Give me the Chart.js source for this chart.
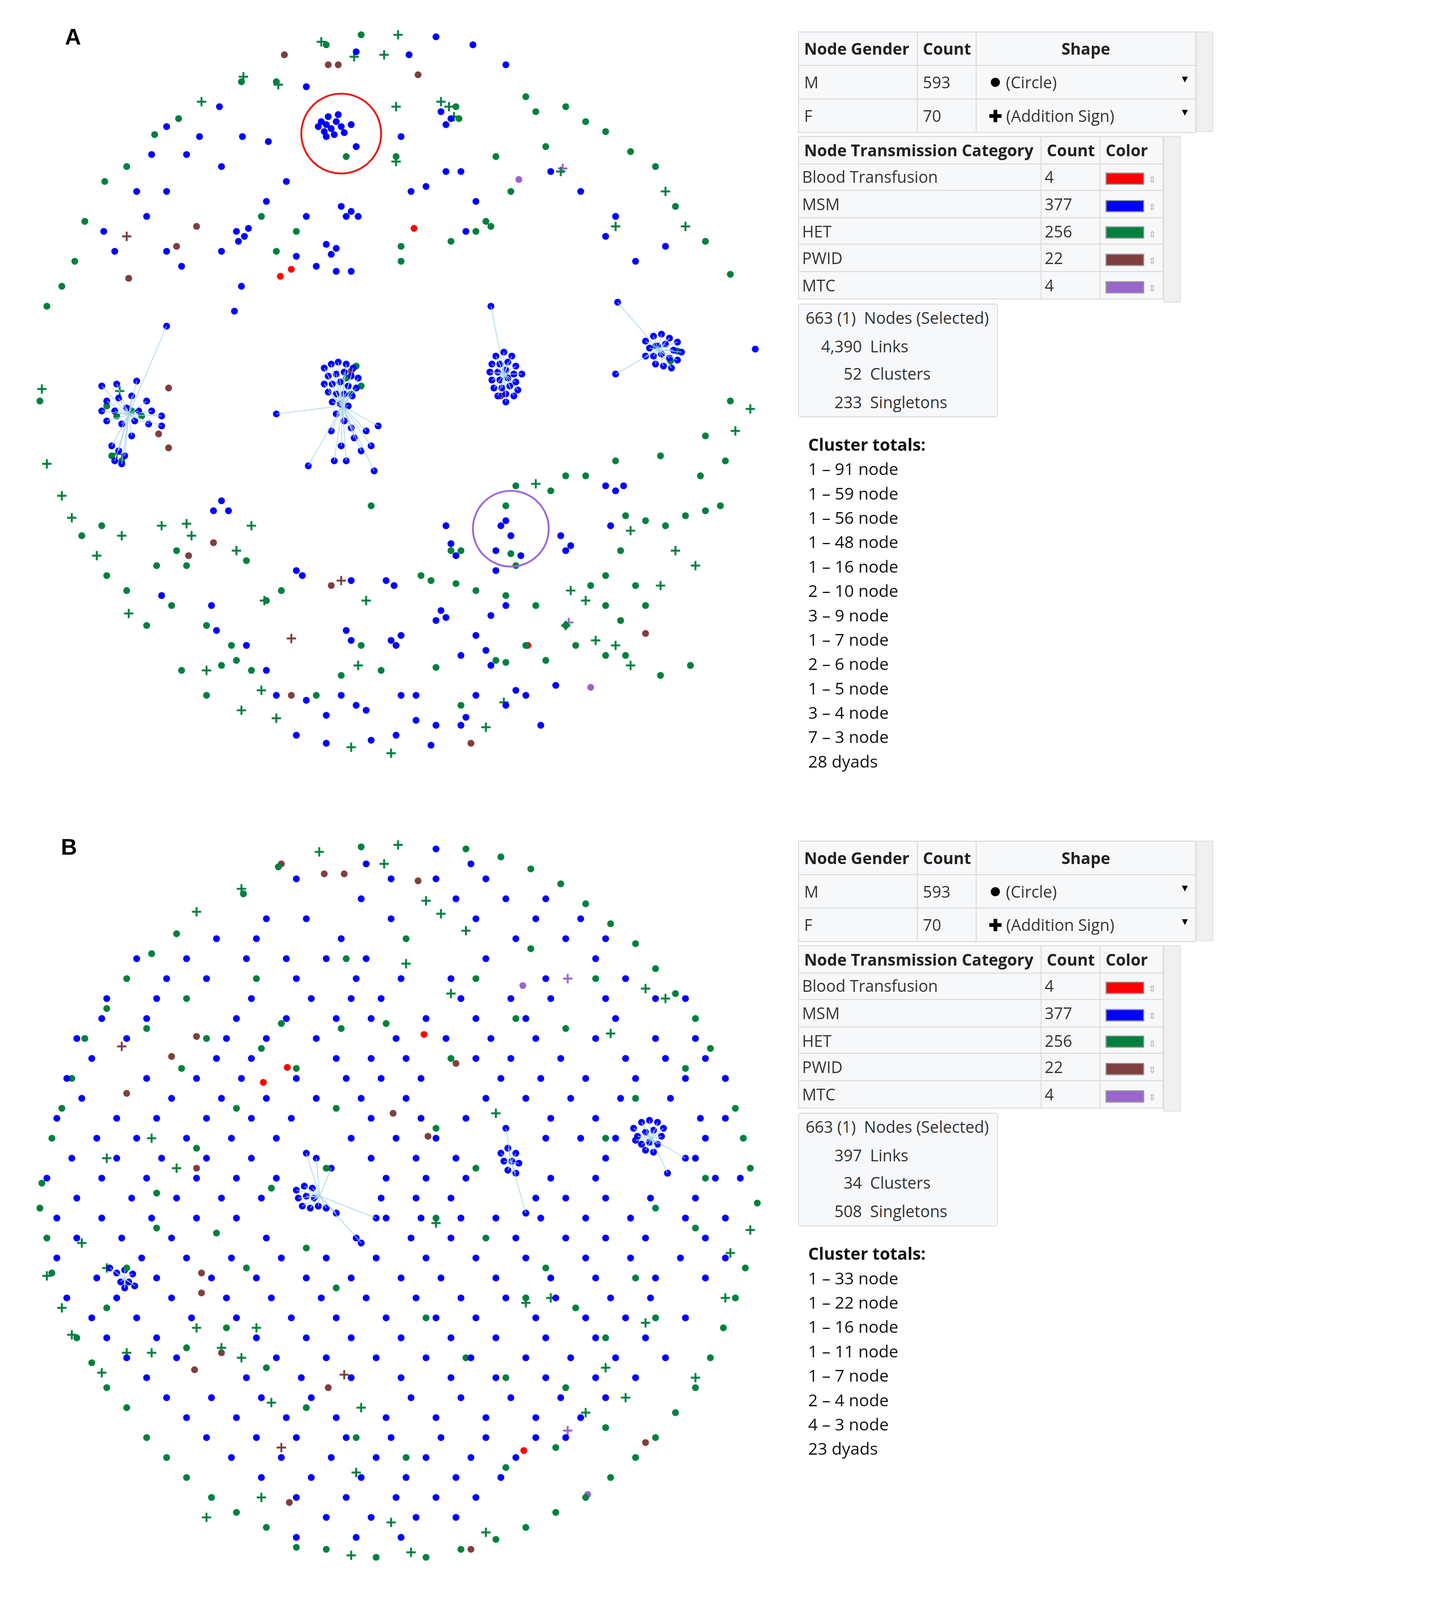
<!DOCTYPE html>
<html><head><meta charset="utf-8">
<script src="https://cdn.jsdelivr.net/npm/chart.js@4"></script>
<style>
html,body{margin:0;padding:0;background:#fff;overflow:hidden;}
#wrap{position:absolute;left:0;top:0;width:1220px;height:1576px;transform-origin:0 0;font-family:"Open Sans","Noto Sans",sans-serif;color:#333;}
.lbl{position:absolute;font:bold 22px "Liberation Sans",Arial,sans-serif;color:#000;}
.cv{position:absolute;}
table{border-collapse:collapse;font-size:15.8px;position:absolute;table-layout:fixed;background:#f7f8fa;}
td,th{border:1px solid #dcdcdc;padding:0 5px;height:32px;text-align:left;white-space:nowrap;overflow:hidden;}
th{font-weight:bold;color:#222;}
.t2 td,.t2 th{height:25.6px;}
.t2 td{padding:0 3px;}
.sw{display:inline-block;width:38px;height:12px;vertical-align:middle;border:1px solid #999;box-sizing:border-box;}
.stats{position:absolute;border:1px solid #dcdcdc;border-radius:3px;background:#f7f8fa;font-size:15.8px;line-height:27.5px;padding:0 4px;}
.stats span{display:inline-block;text-align:right;margin-right:8px;}
.tot{position:absolute;font-size:16.5px;line-height:24px;color:#111;}
.sb{position:absolute;background:#f0f0f0;border:1px solid #e3e3e3;box-sizing:border-box;}
</style></head><body><div id="wrap">
<div class="lbl" style="left:64px;top:24px">A</div>
<div class="lbl" style="left:60px;top:822px">B</div>
<canvas id="cA" class="cv" style="left:20px;top:15px"></canvas>
<canvas id="cB" class="cv" style="left:20px;top:810px"></canvas>
<div id="panels"></div>
</div>
<script>
// ---------- DATA (design-pixel coordinates) ----------
const genderRows=[["M",593,"<span style='font-size:21px;line-height:10px;color:#000'>●</span> (Circle)"],["F",70,"<b style='color:#000'>✚</b> (Addition Sign)"]];
const categories=["Blood Transfusion","MSM","HET","PWID","MTC"];
const categoryCounts=[4,377,256,22,4];
const categoryColors=["#ff0000","#0000ff","#00803f","#7f3f3f","#9966cc"];
const statsA=[["663 (1)","Nodes (Selected)"],["4,390","Links"],["52","Clusters"],["233","Singletons"]];
const statsB=[["663 (1)","Nodes (Selected)"],["397","Links"],["34","Clusters"],["508","Singletons"]];
const totalsA=["1 – 91 node","1 – 59 node","1 – 56 node","1 – 48 node","1 – 16 node","2 – 10 node","3 – 9 node","1 – 7 node","2 – 6 node","1 – 5 node","3 – 4 node","7 – 3 node","28 dyads"];
const totalsB=["1 – 33 node","1 – 22 node","1 – 16 node","1 – 11 node","1 – 7 node","2 – 4 node","4 – 3 node","23 dyads"];

const A_MSM=[[430,30],[467,38],[403,48],[350,45],[500,58],[300,80],[262,135],[213,100],[193,130],[236,130],[160,120],[145,148],[180,148],[215,160],[130,185],[160,185],[97,225],[140,210],[108,245],[160,245],[175,260],[215,245],[235,280],[228,305],[260,195],[280,175],[300,210],[290,250],[310,260],[330,265],[345,265],[395,130],[405,185],[420,180],[440,165],[455,165],[460,225],[470,195],[545,165],[575,185],[600,230],[610,210],[630,255],[750,343],[660,240],
[315,115],[320,118],[325,122],[330,115],[335,120],[318,125],[328,128],[312,120],[322,110],[332,108],[338,126],[345,118],[320,130],[350,140],
[335,200],[345,205],[352,210],[340,210],[230,225],[238,230],[232,235],[242,222],[320,238],[330,242],[325,248],[435,105],[445,112],[440,118],
[215,495],[222,505],[207,505],[440,520],[445,538],[450,550],[495,520],[505,530],[490,545],[515,550],[500,515],[555,530],[565,540],[560,545],[600,480],[610,485],[618,480],[605,520],[290,565],[296,570],[345,575],[380,575],[388,580],[435,605],[440,612],[430,615],[490,565],[500,600],[485,610],[205,600],[210,625],[155,590],[240,640],[340,625],[345,635],[385,635],[390,640],[395,630],[470,630],[480,645],[455,650],[485,660],[470,690],[460,712],[500,700],[535,720],[510,685],[520,690],[550,680],[395,690],[410,715],[430,720],[455,720],[360,705],[320,710],[290,730],[320,738],[365,735],[390,730],[425,740],[350,700],[335,690],[300,695],[410,690],[270,690],[260,665]];
const A_HET=[[355,28],[320,38],[270,75],[235,75],[172,112],[148,128],[120,160],[98,175],[78,215],[68,255],[55,280],[40,300],[33,395],[75,530],[95,520],[100,570],[120,585],[140,620],[150,560],[170,545],[165,600],[180,560],[175,665],[200,690],[215,660],[230,655],[245,665],[200,620],[225,640],[260,595],[275,585],[240,555],[310,690],[335,670],[375,665],[355,640],[430,662],[455,700],[490,655],[500,657],[520,640],[540,655],[585,580],[600,570],[615,545],[630,580],[620,510],[640,515],[660,520],[680,510],[700,505],[715,500],[610,455],[655,450],[695,470],[720,455],[700,430],[725,395],[530,600],[510,560],[500,590],[560,470],[545,485],[510,480],[580,470],[415,570],[425,575],[455,545],[450,578],[470,585],[560,620],[570,640],[600,650],[640,600],[655,670],[620,650],[685,660],[560,100],[580,115],[600,125],[625,145],[650,160],[670,200],[700,235],[725,268],[530,105],[520,90],[540,140],[490,150],[505,185],[480,215],[470,225],[445,235],[485,220],[395,240],[395,255],[270,245],[255,210],[290,225],[450,100],[453,112],[340,150],[390,150],[365,500],[500,500],[600,600],[615,615],[505,548],[445,545]];
const A_HET_F=[[315,35],[392,28],[378,48],[237,70],[272,78],[348,50],[195,95],[390,100],[435,95],[443,100],[448,110],[660,185],[680,220],[610,220],[35,383],[40,458],[55,490],[65,512],[115,530],[90,550],[155,520],[180,518],[185,530],[245,520],[230,545],[122,608],[200,665],[255,685],[270,713],[235,705],[345,742],[385,748],[480,722],[498,697],[560,620],[580,595],[590,635],[610,640],[625,660],[690,560],[670,545],[655,580],[565,585],[530,478],[625,525],[745,403],[730,425],[360,595],[352,660],[258,595],[110,448],[113,385],[390,155],[555,165]];
const A_PWID=[[278,48],[322,58],[332,58],[412,68],[190,220],[170,240],[122,272],[162,382],[162,442],[152,428],[182,550],[207,537],[325,580],[285,690],[465,738],[640,628],[495,390],[345,365]];
const A_PWID_F=[[120,230],[335,575],[285,633]];
const A_BLOOD=[[408,222],[274,270],[285,263],[522,640]];
const A_MTC=[[513,173],[585,682]];
const A_MTC_F=[[557,162],[563,617]];
const A_clusterCenter=[[318,362],[325,358],[332,356],[340,358],[347,362],[322,370],[330,368],[338,366],[345,370],[352,372],[318,378],[326,378],[334,376],[342,380],[350,382],[322,386],[330,388],[338,388],[346,390],[326,396],[334,398],[342,400],[330,408],[338,415],[345,422],[325,425],[335,440],[348,432],[360,425],[355,445],[340,455],[328,455],[302,460],[368,465],[365,440],[372,420],[270,408]];
const A_clusterMid=[[490,350],[498,346],[506,350],[486,358],[494,358],[502,356],[510,360],[484,366],[492,366],[500,364],[508,368],[516,368],[486,374],[494,374],[502,372],[510,376],[488,382],[496,382],[504,380],[512,384],[492,390],[500,388],[508,390],[485,300],[500,396]];
const A_clusterRight=[[640,335],[648,330],[656,328],[664,332],[672,336],[644,342],[652,340],[660,338],[668,344],[676,346],[640,350],[648,350],[656,348],[664,352],[672,354],[650,358],[658,360],[666,362],[610,368],[612,296]];
const A_clusterLeft=[[95,380],[110,378],[130,375],[100,395],[112,392],[125,390],[140,395],[95,405],[108,405],[120,402],[132,405],[145,405],[155,410],[100,415],[115,418],[128,415],[142,418],[155,420],[125,430],[105,440],[112,445],[118,450],[108,455],[115,458],[160,320]];
const A_clusterHET=[[355,380],[345,388],[350,360],[340,372],[110,410],[125,405],[105,450],[115,455],[135,410],[100,400],[640,350],[650,340],[665,355],[672,345]];
const A_rings=[[335,127,40,"#ee1111"],[505,523,38,"#9966dd"]];

const B_MSM_rows=[[830,[430]],[845,[465,360]],[860,[290,385,430,480]],[880,[355,450,500,540]],[900,[260,300,385,470,530,575]],[920,[210,250,335,510,560,600]],[940,[130,180,240,280,320,360,480,590]],[960,[160,200,290,350,395,445,540,620]],[980,[100,150,245,305,345,375,455,505,545,600,650,680]],[1000,[95,140,230,280,330,365,420,470,520,610]],[1020,[70,120,220,260,310,390,440,485,530,590,650,690]],[1040,[85,210,245,330,365,400,470,505,555,620,660,700]],[1060,[60,140,190,235,290,340,375,415,495,535,580,630,680,720]],[1080,[75,165,215,260,310,355,400,480,520,565,615,665]],[1100,[50,110,150,200,245,285,365,415,460,545,590,695,720]],[1120,[90,130,180,225,270,345,390,430,540,575,610,700]],[1140,[65,110,155,200,245,365,410,450,600,690]],[1160,[40,95,140,190,230,270,380,420,460,545,590,710,735]],[1180,[70,125,170,215,255,375,410,445,530,560,600,645,690]],[1200,[50,95,145,190,230,380,415,455,490,535,580,625,680,720]],[1220,[70,115,165,260,350,405,445,510,560,600,640,700]],[1240,[50,135,180,225,275,320,370,420,470,520,580,625,675,720]],[1260,[90,150,205,250,300,345,395,435,490,545,590,650,700]],[1280,[60,110,165,220,265,315,360,410,455,500,550,605,645]],[1300,[85,130,185,230,285,330,380,430,470,530,580,620,680]],[1320,[100,150,250,300,345,395,445,490,540,590,640]],[1340,[120,170,270,320,370,420,465,520,565,610,660]],[1360,[140,240,295,345,395,445,490,540,590,630]],[1380,[160,205,255,305,405,455,505,555,600]],[1400,[180,230,280,330,380,430,480,530,575]],[1420,[200,250,290,340,385,435,480,530,560]],[1440,[225,275,325,370,420,465,510]],[1460,[255,305,355,400,450,495]],[1480,[290,340,390,430,470]],[1500,[320,365,410,450]],[1520,[290,350,395]]];
const B_HET=[[355,828],[272,848],[237,875],[170,915],[145,935],[120,960],[100,990],[78,1020],[65,1060],[55,1090],[45,1120],[35,1165],[33,1190],[40,1220],[45,1255],[70,1320],[85,1345],[100,1370],[120,1390],[140,1420],[160,1440],[180,1460],[205,1480],[230,1495],[260,1510],[290,1530],[320,1532],[370,1540],[420,1540],[455,1532],[490,1522],[520,1510],[550,1495],[580,1480],[605,1460],[630,1440],[650,1420],[670,1395],[690,1370],[705,1340],[718,1310],[730,1280],[740,1250],[752,1185],[745,1150],[738,1120],[730,1090],[720,1060],[705,1030],[690,1000],[670,975],[650,950],[630,925],[605,905],[580,885],[555,865],[525,850],[495,838],[460,830],
[255,1030],[275,1005],[335,1010],[380,1005],[445,1040],[510,1000],[560,1010],[200,1020],[175,1050],[230,1090],[290,1050],[330,1090],[430,1110],[470,1150],[320,1150],[265,1170],[190,1130],[150,1175],[210,1215],[240,1250],[300,1230],[330,1270],[430,1200],[480,1220],[520,1280],[540,1250],[570,1290],[600,1320],[630,1260],[650,1300],[420,1300],[460,1340],[500,1360],[560,1370],[220,1310],[180,1330],[260,1350],[300,1390],[350,1420],[400,1440],[500,1450],[550,1430],[600,1410],[120,1250],[100,1290],[150,1210],[650,1190],[690,1210],[700,1160],[600,1120],[630,1080],[680,1050],[590,960],[525,930],[470,960],[400,920],[340,940],[250,960],[180,980],[140,1010]];
const B_HET_F=[[313,833],[392,826],[378,845],[235,870],[190,893],[420,882],[435,895],[460,912],[400,945],[445,975],[640,970],[660,980],[605,1015],[100,1140],[75,1225],[40,1258],[100,1250],[55,1290],[65,1317],[95,1355],[120,1335],[145,1335],[190,1310],[215,1330],[235,1340],[250,1310],[265,1385],[355,1390],[350,1455],[385,1505],[405,1535],[345,1538],[255,1480],[200,1500],[480,1515],[520,1285],[545,1280],[580,1395],[600,1350],[620,1380],[640,1305],[690,1360],[720,1280],[745,1212],[725,1235],[490,1095],[430,1205],[145,1120],[170,1150]];
const B_PWID=[[275,845],[318,855],[338,855],[412,862],[190,1018],[165,1038],[120,1075],[190,1150],[195,1255],[195,1275],[215,1335],[188,1352],[322,1370],[387,1095],[422,1118],[283,1485],[465,1532],[640,1425],[450,1045]];
const B_PWID_F=[[115,1028],[338,1357],[275,1430]];
const B_BLOOD=[[418,1016],[281,1049],[257,1064],[518,1433]];
const B_MTC=[[517,967],[582,1477]];
const B_MTC_F=[[562,960],[562,1413]];
const B_cluster1=[[628,1110],[636,1104],[644,1102],[652,1104],[658,1110],[632,1118],[640,1114],[648,1112],[656,1118],[636,1126],[644,1124],[652,1126],[640,1132],[648,1134],[662,1155],[680,1140],[630,1122]];
const B_cluster2=[[495,1135],[502,1130],[510,1135],[498,1143],[506,1143],[513,1145],[502,1152],[510,1155],[520,1195],[500,1110]];
const B_cluster3=[[290,1172],[298,1168],[306,1170],[292,1180],[300,1178],[308,1180],[296,1188],[304,1190],[312,1188],[320,1190],[330,1195],[310,1140],[300,1135],[325,1150],[355,1225],[370,1200]];
const B_cluster4=[[110,1255],[118,1252],[126,1256],[114,1264],[122,1264],[118,1270],[128,1268],[103,1250]];
const B_clusterHET=[[630,1122],[636,1126],[662,1155],[506,1143],[520,1195],[312,1188],[320,1190],[330,1195],[355,1225]];

// ---------- BUILD ----------
const S=Math.min(window.innerWidth/1220,window.innerHeight/1576);
document.getElementById('wrap').style.transform='scale('+S+')';
const DPR=S*(window.devicePixelRatio||1);
const P=a=>a.map(p=>({x:p[0],y:p[1]}));
function links(cl){const o=[];const cx=cl.reduce((s,p)=>s+p[0],0)/cl.length,cy=cl.reduce((s,p)=>s+p[1],0)/cl.length;
 cl.forEach(p=>{o.push({x:cx,y:cy},{x:p[0],y:p[1]},{x:NaN,y:NaN});});return o;}
function ds(data,color,cross){return {type:'scatter',data:P(data),pointStyle:cross?'cross':'circle',pointRadius:cross?4.6:3.4,
 backgroundColor:color,borderColor:color,borderWidth:cross?1.9:0,pointHoverRadius:0};}
const ringPlugin={id:'rings',afterDatasetsDraw(c){const r=c.options.plugins.rings.list||[];const ctx=c.ctx;
 r.forEach(q=>{const x=c.scales.x.getPixelForValue(q[0]),y=c.scales.y.getPixelForValue(q[1]);
 const rr=c.scales.x.getPixelForValue(q[0]+q[2])-x;ctx.save();ctx.beginPath();ctx.arc(x,y,rr,0,Math.PI*2);ctx.strokeStyle=q[3];ctx.lineWidth=1.8;ctx.stroke();ctx.restore();});}};
function make(id,y0,sets,clusters,rings){
 const cv=document.getElementById(id);cv.width=750;cv.height=750;
 const linkData=[];clusters.forEach(c=>linkData.push(...links(c)));
 new Chart(cv,{type:'scatter',plugins:[ringPlugin],data:{datasets:[
  {type:'line',data:linkData,borderColor:'#a9d2e8',borderWidth:0.7,pointRadius:0,spanGaps:false,fill:false},...sets]},
  options:{responsive:false,animation:false,devicePixelRatio:DPR,layout:{padding:0},
  plugins:{legend:{display:false},tooltip:{enabled:false},rings:{list:rings}},
  scales:{x:{type:'linear',display:false,min:20,max:770},y:{type:'linear',display:false,reverse:true,min:y0,max:y0+750}}}});
}
const [cR,cBl,cG,cP,cM]=categoryColors;
make('cA',15,[ds(A_HET,cG),ds(A_MSM,cBl),ds(A_clusterCenter,cBl),ds(A_clusterMid,cBl),ds(A_clusterRight,cBl),ds(A_clusterLeft,cBl),ds(A_clusterHET,cG),
 ds(A_HET_F,cG,true),ds(A_PWID,cP),ds(A_PWID_F,cP,true),ds(A_BLOOD,cR),ds(A_MTC,cM),ds(A_MTC_F,cM,true)],
 [A_clusterCenter,A_clusterMid,A_clusterRight,A_clusterLeft],A_rings);
const B_MSM=[];B_MSM_rows.forEach(r=>r[1].forEach(x=>B_MSM.push([x,r[0]])));
make('cB',810,[ds(B_MSM,cBl),ds(B_HET,cG),ds(B_cluster1,cBl),ds(B_cluster2,cBl),ds(B_cluster3,cBl),ds(B_cluster4,cBl),ds(B_clusterHET,cG),
 ds(B_HET_F,cG,true),ds(B_PWID,cP),ds(B_PWID_F,cP,true),ds(B_BLOOD,cR),ds(B_MTC,cM),ds(B_MTC_F,cM,true)],
 [B_cluster1,B_cluster2,B_cluster3,B_cluster4],[]);

// ---------- SIDE PANELS ----------
function panel(top,stats,totals){
 let h=`<table style="left:786px;top:${top}px;width:392px"><colgroup><col style="width:117px"><col style="width:58px"><col></colgroup><tr><th>Node Gender</th><th>Count</th><th style="text-align:center">Shape</th></tr>`;
 genderRows.forEach(r=>{h+=`<tr><td>${r[0]}</td><td>${r[1]}</td><td style="padding-left:12px">${r[2]}<span style="float:right;font-size:10px;color:#000">▼</span></td></tr>`;});
 h+=`</table><div class="sb" style="left:1178px;top:${top}px;width:17px;height:99px"></div>`;
 h+=`<table class="t2" style="left:786px;top:${top+103}px;width:360px"><colgroup><col style="width:239px"><col style="width:58px"><col></colgroup><tr><th>Node Transmission Category</th><th>Count</th><th>Color</th></tr>`;
 categories.forEach((c,i)=>{h+=`<tr><td>${c}</td><td>${categoryCounts[i]}</td><td style="padding-left:5px"><span class="sw" style="background:${categoryColors[i]}"></span> <span style="font-size:9px;color:#999">⇳</span></td></tr>`;});
 h+=`</table><div class="sb" style="left:1146px;top:${top+103}px;width:17px;height:164px"></div>`;
 h+=`<div class="stats" style="left:786px;top:${top+268}px;width:187px">`;
 stats.forEach((s,i)=>{h+=`<div><span style="width:${i==0?52:58}px">${s[0]}</span>${s[1]}</div>`;});
 h+=`</div><div class="tot" style="left:796px;top:${top+395}px"><b>Cluster totals:</b>`;
 totals.forEach(t=>h+=`<div>${t}</div>`);h+=`</div>`;return h;}
document.getElementById('panels').innerHTML=panel(31,statsA,totalsA)+panel(828,statsB,totalsB);
</script></body></html>
